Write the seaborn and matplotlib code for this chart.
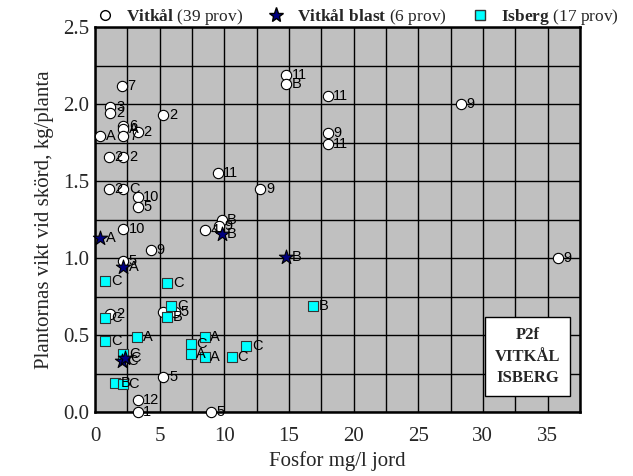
import matplotlib
matplotlib.use('Agg')
import matplotlib.pyplot as plt
import numpy as np
import pandas as pd
import seaborn as sns
from matplotlib.lines import Line2D

sns.set_theme(style='white')
plt.rcParams['font.family'] = ['Liberation Serif', 'DejaVu Serif']
plt.rcParams['mathtext.fontset'] = 'custom'
plt.rcParams['mathtext.rm'] = 'Liberation Serif'
plt.rcParams['mathtext.bf'] = 'Liberation Serif:bold'

# Vitkål (white circles)
vk_x = [2.1, 1.2, 1.2, 5.3, 2.2, 2.2, 3.3, 0.4, 2.2, 1.1, 2.2, 1.1, 2.2, 3.3, 3.3,
        2.2, 4.3, 2.2, 5.3, 6.2, 1.2, 5.3, 3.3, 3.3, 9.0, 8.5, 9.8, 9.6, 9.5, 12.8,
        14.8, 14.8, 18.0, 18.0, 18.0, 28.3, 35.8]
vk_y = [2.12, 1.98, 1.94, 1.93, 1.86, 1.84, 1.82, 1.79, 1.79, 1.66, 1.66, 1.45, 1.45, 1.40, 1.33,
        1.19, 1.05, 0.98, 0.65, 0.65, 0.64, 0.23, 0.08, 0.0, 0.0, 1.18, 1.25, 1.21, 1.55, 1.45,
        2.19, 2.13, 2.05, 1.81, 1.74, 2.0, 1.0]
vk_lab = ['7', '3', '2', '2', '6', 'A', '2', 'A', '7', '2', '2', '2', 'C', '10', '5',
          '10', '9', '5', '', '5', '2', '5', '12', '1', '5', '4', 'B', '9', '11', '9',
          '11', 'B', '11', '9', '11', '9', '9']

# Vitkål blast (stars)
vb_x = [0.4, 2.2, 9.8, 14.8, 2.1, 2.3]
vb_y = [1.13, 0.94, 1.16, 1.01, 0.33, 0.35]
vb_lab = ['A', 'A', 'B', 'B', 'C', 'C']

# Isberg (squares)
ib_x = [0.8, 5.6, 5.9, 5.6, 0.8, 0.8, 3.25, 2.2, 1.55, 2.15, 7.4, 7.4, 8.5, 8.5,
        10.6, 11.7, 16.9]
ib_y = [0.85, 0.84, 0.69, 0.62, 0.61, 0.46, 0.49, 0.38, 0.19, 0.18, 0.44, 0.38, 0.49, 0.36,
        0.36, 0.43, 0.69]
ib_lab = ['C', 'C', 'C', 'B', 'C', 'C', 'A', 'C', 'B', 'C', 'C', 'A', 'A', 'A',
          'C', 'C', 'B']

vitkal = pd.DataFrame({'P': vk_x, 'vikt': vk_y, 'lab': vk_lab})
blast = pd.DataFrame({'P': vb_x, 'vikt': vb_y, 'lab': vb_lab})
isberg = pd.DataFrame({'P': ib_x, 'vikt': ib_y, 'lab': ib_lab})

fig, ax = plt.subplots(figsize=(6.33, 4.76), dpi=100)
fig.subplots_adjust(left=0.150, right=0.916, top=0.943, bottom=0.134)
ax.set_facecolor('#c0c0c0')

groups = [
    (vitkal, 'o', 'white', 'black', 55),
    (isberg, 's', '#00ffff', '#333333', 55),
    (blast, '*', '#000080', 'black', 115),
]
for df, mk, fc, ec, sz in groups:
    sns.scatterplot(data=df, x='P', y='vikt', marker=mk, color=fc, edgecolor=ec,
                    linewidth=0.8, s=sz, ax=ax, zorder=3, clip_on=False)
    for _, r in df.iterrows():
        ax.annotate(r['lab'], (r['P'], r['vikt']), xytext=(4, 0),
                    textcoords='offset points', va='center', ha='left',
                    fontsize=10.5, family='Liberation Sans', color='black', zorder=4)

ax.set_xlim(0, 37.5)
ax.set_ylim(0, 2.5)
ax.set_xticks(np.arange(0, 36, 5))
ax.set_yticks(np.arange(0, 2.51, 0.5))
ax.set_yticklabels([f'{v:.1f}' for v in np.arange(0, 2.51, 0.5)])
ax.set_xticks(np.arange(0, 37.6, 2.5), minor=True)
ax.set_yticks(np.arange(0, 2.51, 0.25), minor=True)
ax.grid(which='both', color='black', linewidth=1.0)
ax.set_axisbelow(True)
ax.tick_params(which='both', length=0, labelsize=15)
ax.tick_params(axis='x', pad=11)
ax.tick_params(axis='y', pad=4)
for sp in ax.spines.values():
    sp.set_color('black')
    sp.set_linewidth(1.8)

ax.set_xlabel('Fosfor mg/l jord', fontsize=15, labelpad=3)
ax.set_ylabel('Plantornas vikt vid skörd, kg/planta', fontsize=15, labelpad=7)

ax.text(0.892, 0.144, 'P2f\nVITKÅL\nISBERG', transform=ax.transAxes, ha='center', va='center',
        fontsize=12, fontweight='bold', linespacing=1.45, zorder=5,
        bbox=dict(boxstyle='square,pad=0.6', facecolor='white', edgecolor='black', linewidth=1))

handles = [
    Line2D([], [], marker='o', linestyle='', markerfacecolor='white', markeredgecolor='black', markersize=7),
    Line2D([], [], marker='*', linestyle='', markerfacecolor='#000080', markeredgecolor='black', markersize=11),
    Line2D([], [], marker='s', linestyle='', markerfacecolor='#00ffff', markeredgecolor='#333333', markersize=7),
]
labels = [r'$\mathbf{Vitkål}$ (39 prov)', r'$\mathbf{Vitkål\ blast}$ (6 prov)',
          r'$\mathbf{Isberg}$ (17 prov)']
ax.legend(handles, labels, loc='lower left', bbox_to_anchor=(0.0, 1.0), ncol=3,
          frameon=False, fontsize=12.5, columnspacing=1.3, handletextpad=0.6,
          borderaxespad=0, borderpad=0, handlelength=1.2)

fig.savefig('out.png', dpi=100)
